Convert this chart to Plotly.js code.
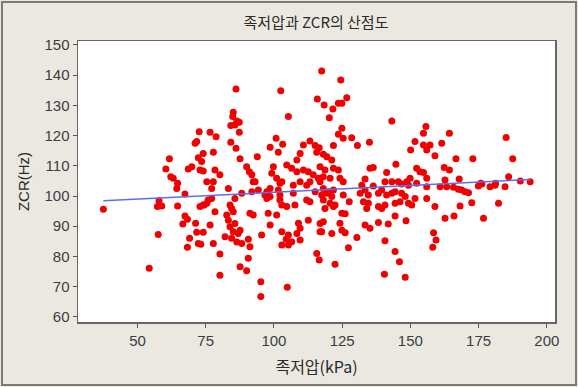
<!DOCTYPE html>
<html>
<head>
<meta charset="utf-8">
<script src="https://cdn.plot.ly/plotly-3.0.1.min.js"></script>
<style>html,body{margin:0;padding:0;background:#ebe8e1;}#chart{width:578px;height:387px;}</style>
</head>
<body>
<div id="chart"></div>
<script>
// 족저압 (kPa)
const pressure = [
37.5,54.3,57.6,57.9,57.3,58.9,64.7,64.4,67.4,64.7,67.4,68.3,66.6,71.3,71.7,74.1,69.1,68.3,72.3,73.2,
72.9,74.4,72.6,71.7,71.1,61.7,60.4,72.3,73.5,68.6,69.9,72.9,74.1,62.2,63.1,117.5,86.1,102.5,115.9,118.4,
105.3,85.1,84.9,86.4,87.3,84.2,85.7,87.3,76.6,78.8,84.2,86.1,100.8,103.2,98.6,101.6,113.2,110.8,115.1,116.6,
74.1,77.8,87.6,93.9,109.6,108.4,115.7,118.1,78.4,80.2,90.0,91.0,91.9,93.1,99.8,99.2,101.0,102.9,104.7,106.5,
108.4,110.8,112.6,114.4,116.3,118.1,109.6,113.2,75.4,77.8,124.5,126.7,123.6,124.9,121.6,120.3,143.2,124.9,123.6,125.4,
128.5,135.0,121.8,130.6,155.7,154.8,151.7,150.1,154.8,157.2,156.0,161.5,159.0,119.4,121.2,116.9,118.7,121.8,123.6,136.4,
135.2,144.7,141.3,152.3,153.5,154.8,156.0,149.9,148.7,120.6,124.2,125.4,133.4,140.7,143.2,145.6,164.3,185.1,166.7,172.9,
187.5,162.4,164.3,162.7,167.9,186.0,175.8,181.2,190.3,193.9,160.9,163.3,165.8,167.6,168.8,170.0,171.3,174.9,176.2,179.2,
181.0,184.7,168.2,172.5,182.3,162.7,166.0,176.8,118.1,120.0,121.8,132.2,136.4,146.8,149.3,152.3,156.0,117.5,119.4,121.2,
118.1,120.6,122.4,118.7,121.8,125.4,127.6,131.6,133.4,134.6,132.8,134.6,134.0,138.3,139.5,141.3,143.2,144.4,146.8,148.1,
146.2,151.7,149.3,150.5,156.0,159.0,138.3,140.7,139.5,144.4,144.4,118.1,116.9,121.2,124.9,126.1,124.2,124.9,126.1,130.4,
133.4,135.2,138.3,141.9,148.4,127.3,122.4,140.7,144.4,146.0,140.5,148.1,158.5,159.4,158.2,77.2,83.3,88.2,91.9,92.4,
97.4,98.6,102.2,101.6,107.1,112.0,115.1,116.9,74.1,75.9,77.2,75.4,78.4,85.7,83.9,84.5,85.1,82.7,83.3,85.7,
83.9,85.1,86.9,87.6,84.5,86.4,88.2,82.1,76.6,77.8,80.2,80.2,90.6,91.2,90.6,87.6,90.0,95.2,95.2,91.2,
92.4,97.9,95.5,98.6,102.9,102.9,105.3,105.3,104.5,106.5,109.0,109.6,109.6,108.4,112.6,107.1,107.7,112.0,113.2,115.7,
116.6,116.9,117.5,94.3,96.7,97.4,98.6,102.2,102.2,102.9,104.7,101.0,104.9
];
// ZCR (Hz)
const zcr = [
95.6,76.1,87.3,98.4,96.5,96.7,104.2,102.5,100.7,96.7,93.4,92.3,90.7,91.0,88.0,88.0,86.0,83.0,84.3,84.0,
96.5,97.0,121.3,118.0,117.5,112.3,108.9,112.7,111.4,108.9,109.7,108.6,108.3,106.4,105.9,141.4,135.4,134.8,132.1,130.1,
126.3,127.7,126.3,124.8,124.4,123.3,123.5,121.1,121.1,119.6,117.8,115.8,119.1,117.1,116.1,114.5,118.2,116.9,116.7,116.0,
114.1,114.5,112.3,113.0,114.1,111.9,114.5,113.8,108.6,107.0,109.7,108.0,107.0,104.7,109.7,107.5,105.9,104.7,110.3,109.2,
108.0,108.6,108.0,107.0,105.9,106.4,104.7,104.7,104.7,104.7,138.4,132.5,130.7,130.7,128.8,125.9,124.8,122.4,120.4,119.1,
119.3,117.8,116.7,116.7,123.0,120.8,118.0,115.2,116.9,116.9,115.2,117.5,113.3,113.0,111.9,109.7,108.6,109.2,108.6,109.4,
109.2,110.5,107.8,109.2,108.0,107.8,105.9,105.9,104.7,105.9,105.9,104.7,105.6,104.7,104.7,104.7,120.8,119.4,112.3,112.3,
112.3,109.4,108.6,105.3,105.6,106.4,104.2,104.2,105.0,104.7,103.1,103.1,102.9,102.2,102.0,101.4,101.1,103.3,104.0,103.1,
103.6,103.1,96.7,97.8,97.6,92.6,93.4,92.6,102.5,101.4,102.0,103.6,103.3,104.0,103.6,104.2,103.1,100.3,100.9,99.8,
98.7,97.6,97.0,95.9,96.5,100.3,98.1,100.9,102.0,100.3,98.1,97.6,95.9,100.9,102.0,100.3,100.9,101.4,100.9,99.8,
98.1,99.2,97.6,97.0,99.2,96.5,96.5,97.0,95.9,97.6,93.4,91.5,88.2,87.6,94.3,94.1,91.0,88.7,87.8,86.3,
90.4,89.3,91.2,90.7,91.8,82.9,77.4,85.2,81.6,78.2,74.1,73.1,87.8,85.4,83.0,102.5,102.5,100.9,101.4,104.7,
101.4,102.5,104.2,102.0,103.6,103.6,101.4,104.7,97.0,98.7,99.2,97.6,94.8,99.2,97.0,95.9,94.8,93.7,92.0,90.9,
89.8,88.2,87.6,88.7,86.0,84.8,84.3,86.5,90.4,84.3,80.8,73.8,85.7,83.2,79.4,76.6,75.3,71.6,66.7,94.3,
93.7,94.3,87.1,90.4,88.2,83.8,87.1,83.8,85.7,84.9,91.0,89.3,85.4,87.6,92.0,100.9,97.0,98.7,98.1,81.0,
78.8,90.9,88.2,102.0,100.3,99.2,99.8,100.3,98.7,97.0,96.5,93.7,69.8
];
// fitted line: ZCR = intercept + slope * pressure
const fitIntercept = 96.7;
const fitSlope = 0.0454;

const xTicks = [50,75,100,125,150,175,200];
const yTicks = [60,70,80,90,100,110,120,130,140,150];

const xMin = Math.min(...pressure), xMax = Math.max(...pressure);
const fitX = [xMin, xMax];
const fitY = fitX.map(v => fitIntercept + fitSlope * v);

const pw = 477, ph = 281, L = 78, T = 41;
const px = p => (p - L) / pw;
const py = p => (T + ph - p) / ph;

const data = [
  {x: pressure, y: zcr, type: 'scatter', mode: 'markers',
   marker: {color: '#f00000', size: 7, symbol: 'circle', line: {width: 0}},
   hoverinfo: 'x+y', showlegend: false},
  {x: fitX, y: fitY, type: 'scatter', mode: 'lines',
   line: {color: '#5b6ef0', width: 1.5}, showlegend: false}
];

const axisFont = {family: 'Liberation Sans, Arial, sans-serif', size: 15, color: '#3d3d3d'};
const layout = {
  width: 578, height: 387,
  paper_bgcolor: '#ebe8e1', plot_bgcolor: '#ffffff',
  margin: {l: L, r: 578 - L - pw, t: T, b: 387 - T - ph, pad: 0},
  title: {text: '족저압과 ZCR의 산점도', x: (316 - 0) / 578, xanchor: 'center', y: 1 - 23/387, yanchor: 'middle',
          font: {family: 'Noto Sans CJK KR, sans-serif', size: 15, color: '#2a2a2a'}},
  xaxis: {range: [28.2, 203], tickvals: xTicks, ticktext: xTicks.map(String),
          ticks: 'outside', ticklen: 4, tickcolor: '#555', tickwidth: 1,
          showgrid: false, zeroline: false, showline: true, linecolor: '#666', linewidth: 1.5, mirror: true,
          tickfont: axisFont,
          title: {text: '족저압(kPa)', standoff: 14, font: {family: 'Noto Sans CJK KR, sans-serif', size: 16, color: '#2a2a2a'}}},
  yaxis: {range: [58.3, 151.3], tickvals: yTicks, ticktext: yTicks.map(String),
          ticks: 'outside', ticklen: 4, tickcolor: '#555', tickwidth: 1,
          showgrid: false, zeroline: false, showline: true, linecolor: '#666', linewidth: 1.5, mirror: true,
          tickfont: axisFont,
          title: {text: 'ZCR(Hz)', standoff: 11, font: {family: 'Liberation Sans, Arial, sans-serif', size: 15, color: '#2a2a2a'}}},
  shapes: [
    {type: 'rect', xref: 'paper', yref: 'paper', x0: px(2), x1: px(576), y0: py(385), y1: py(2),
     line: {color: '#7a7a7a', width: 2}, fillcolor: 'rgba(0,0,0,0)', layer: 'below'}
  ]
};

Plotly.newPlot('chart', data, layout, {staticPlot: true, displayModeBar: false});
</script>
</body>
</html>
